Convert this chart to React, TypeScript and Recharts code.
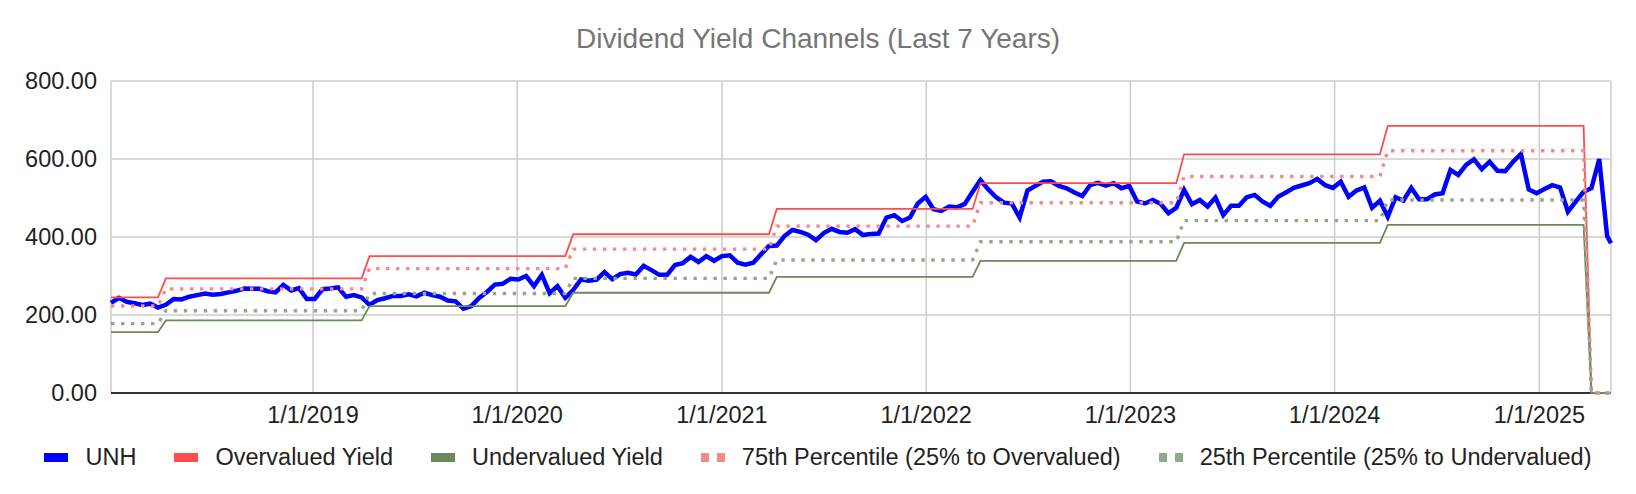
import { LineChart, Line, XAxis, YAxis, CartesianGrid, Legend, ReferenceLine } from 'recharts'

// biweekly closes, first point 2018-01-05, last row is the latest date
const START_DATE = '2018-01-05'
const STEP_DAYS = 14
const LAST_DATE = '2025-05-09'

const UNH = [
  231, 244, 234, 230, 226, 229, 219, 226, 241, 240, 247, 251, 255, 252, 254, 258,
  262, 268, 267, 267, 261, 258, 277, 263, 269, 241, 241, 266, 268, 271, 247, 251,
  245, 226, 238, 243, 249, 249, 253, 248, 257, 251, 247, 237, 235, 216, 223, 244,
  259, 278, 280, 293, 291, 300, 274, 303, 256, 274, 244, 264, 291, 288, 291, 310,
  292, 305, 308, 304, 326, 315, 303, 303, 328, 333, 349, 336, 351, 339, 351, 353,
  334, 329, 334, 356, 377, 378, 403, 418, 413, 406, 392, 410, 421, 413, 411, 420,
  405, 408, 409, 450, 456, 441, 450, 486, 503, 471, 467, 478, 476, 485, 516, 546,
  522, 502, 488, 486, 450, 519, 531, 542, 543, 531, 525, 514, 505, 533, 539, 532,
  538, 525, 531, 491, 486, 495, 485, 461, 475, 521, 484, 495, 478, 501, 456, 480,
  480, 502, 508, 491, 480, 503, 514, 526, 532, 538, 549, 533, 526, 542, 503, 519,
  527, 475, 493, 452, 502, 493, 526, 497, 497, 509, 512, 572, 559, 585, 599, 574,
  593, 570, 569, 593, 613, 522, 512, 523, 533, 527, 465, 491, 516, 525, 600, 403,
  384,
]

// channel levels, each valid from its start date
const CHANNEL_STARTS = [
  '2018-01-01', '2018-04-01', '2019-04-01', '2020-04-01', '2021-04-01',
  '2022-04-01', '2023-04-01', '2024-04-01', '2025-04-01',
]
const OVERVALUED = [245, 294, 351, 407, 472, 538, 612, 685, 0]
const PCT_75 = [223, 267, 319, 369, 428, 488, 555, 621, 0]
const PCT_25 = [178, 211, 255, 294, 341, 388, 442, 495, 0]
const UNDERVALUED = [156, 186, 223, 257, 298, 339, 385, 431, 0]

const X_TICKS = [
  '2019-01-01', '2020-01-01', '2021-01-01', '2022-01-01',
  '2023-01-01', '2024-01-01', '2025-01-01',
]
const Y_TICKS = [0, 200, 400, 600, 800]

const LEGEND = [
  { key: 'unh', label: 'UNH', color: '#0000ff', dotted: false },
  { key: 'over', label: 'Overvalued Yield', color: '#ff4d4d', dotted: false },
  { key: 'under', label: 'Undervalued Yield', color: '#6a8a5a', dotted: false },
  { key: 'p75', label: '75th Percentile (25% to Overvalued)', color: '#f58a8a', dotted: true },
  { key: 'p25', label: '25th Percentile (25% to Undervalued)', color: '#92a88b', dotted: true },
]

const DAY = 86400000
const FONT = "'Liberation Sans', Arial, sans-serif"

const toTime = (s: string) => Date.parse(s + 'T00:00:00Z')

function levelAt(levels: number[], t: number) {
  let v = levels[0]
  CHANNEL_STARTS.forEach((s, i) => {
    if (toTime(s) <= t) v = levels[i]
  })
  return v
}

const chartData = UNH.map((price, i) => {
  const t = i === UNH.length - 1 ? toTime(LAST_DATE) : toTime(START_DATE) + i * STEP_DAYS * DAY
  return {
    t,
    unh: price,
    over: levelAt(OVERVALUED, t),
    under: levelAt(UNDERVALUED, t),
    p75: levelAt(PCT_75, t),
    p25: levelAt(PCT_25, t),
  }
})

function formatDate(t: number) {
  const d = new Date(t)
  return `${d.getUTCMonth() + 1}/${d.getUTCDate()}/${d.getUTCFullYear()}`
}

function LegendRow() {
  return (
    <div
      style={{
        display: 'flex',
        justifyContent: 'center',
        alignItems: 'center',
        gap: 38,
        fontFamily: FONT,
        fontSize: 23.5,
        color: '#222',
        whiteSpace: 'nowrap',
      }}
    >
      {LEGEND.map((item) => (
        <div key={item.key} style={{ display: 'flex', alignItems: 'center', gap: 17 }}>
          <svg width={24} height={9}>
            {item.dotted ? (
              <>
                <rect x={0} y={0} width={8} height={9} fill={item.color} />
                <rect x={16} y={0} width={8} height={9} fill={item.color} />
              </>
            ) : (
              <rect x={0} y={0} width={24} height={9} fill={item.color} />
            )}
          </svg>
          <span>{item.label}</span>
        </div>
      ))}
    </div>
  )
}

export default function App() {
  const tickStyle = { fontSize: 23.5, fill: '#222', fontFamily: FONT }

  return (
    <div style={{ position: 'absolute', left: 0, top: 0, width: 1636, height: 494, background: '#fff' }}>
      <div
        style={{
          position: 'absolute',
          top: 23,
          left: 0,
          width: 1636,
          textAlign: 'center',
          fontFamily: FONT,
          fontSize: 28,
          color: '#757575',
          lineHeight: '32px',
        }}
      >
        Dividend Yield Channels (Last 7 Years)
      </div>
      <LineChart
        width={1636}
        height={494}
        data={chartData}
        margin={{ top: 81, right: 25, bottom: 61, left: 11 }}
      >
        <CartesianGrid stroke="#cccccc" strokeWidth={1.5} />
        <XAxis
          dataKey="t"
          type="number"
          domain={['dataMin', 'dataMax']}
          ticks={X_TICKS.map(toTime)}
          tickFormatter={formatDate}
          interval={0}
          height={40}
          axisLine={false}
          tickLine={false}
          tickMargin={7}
          tick={tickStyle}
        />
        <YAxis
          domain={[0, 800]}
          ticks={Y_TICKS}
          tickFormatter={(v) => Number(v).toFixed(2)}
          width={100}
          axisLine={false}
          tickLine={false}
          tickMargin={8}
          tick={tickStyle}
        />
        <ReferenceLine y={0} stroke="#333" strokeWidth={2} />
        <Line dataKey="unh" stroke="#0000ff" strokeWidth={4.5} dot={false} activeDot={false} isAnimationActive={false} />
        <Line dataKey="over" stroke="#ff4d4d" strokeWidth={1.8} dot={false} activeDot={false} isAnimationActive={false} />
        <Line dataKey="under" stroke="#6a8a5a" strokeWidth={1.8} dot={false} activeDot={false} isAnimationActive={false} />
        <Line
          dataKey="p75"
          stroke="#f58a8a"
          strokeWidth={3.4}
          strokeDasharray="3.4 6.6"
          dot={false}
          activeDot={false}
          isAnimationActive={false}
        />
        <Line
          dataKey="p25"
          stroke="#92a88b"
          strokeWidth={3.4}
          strokeDasharray="3.4 6.6"
          dot={false}
          activeDot={false}
          isAnimationActive={false}
        />
        <Legend
          verticalAlign="middle"
          align="center"
          wrapperStyle={{ top: 444, left: 0, width: 1636, height: 34 }}
          content={() => <LegendRow />}
        />
      </LineChart>
    </div>
  )
}
